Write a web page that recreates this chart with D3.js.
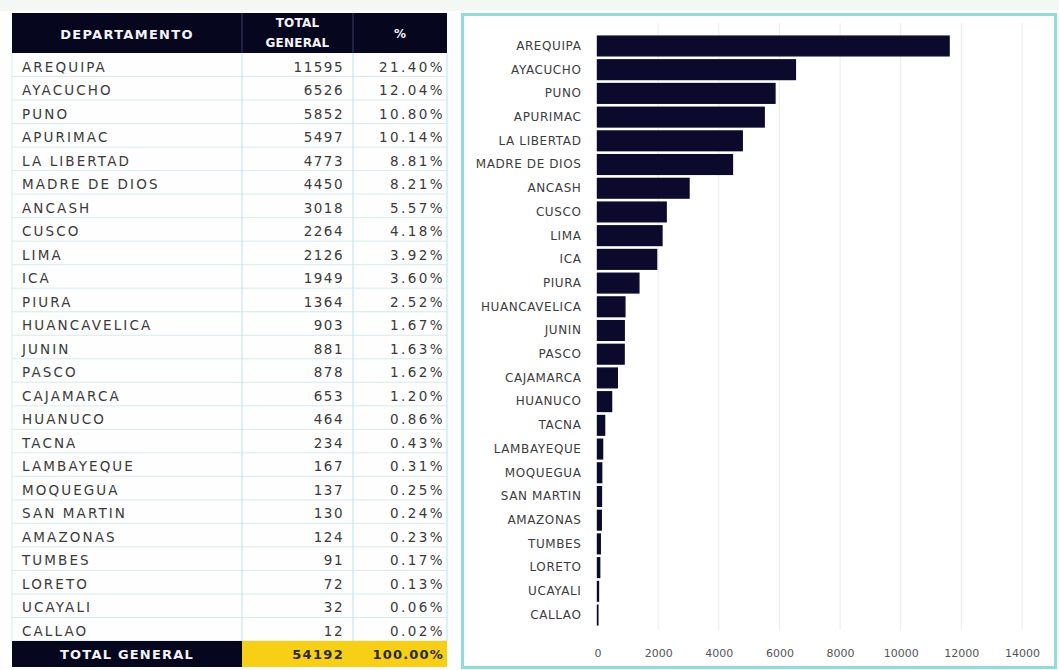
<!DOCTYPE html>
<html><head><meta charset="utf-8">
<script src="https://cdn.jsdelivr.net/npm/d3@7"></script>
<style>
html,body{margin:0;padding:0;background:#fdfefd;}
svg{display:block;}
</style></head>
<body>
<script>
const departments = ["AREQUIPA","AYACUCHO","PUNO","APURIMAC","LA LIBERTAD","MADRE DE DIOS","ANCASH","CUSCO","LIMA","ICA","PIURA","HUANCAVELICA","JUNIN","PASCO","CAJAMARCA","HUANUCO","TACNA","LAMBAYEQUE","MOQUEGUA","SAN MARTIN","AMAZONAS","TUMBES","LORETO","UCAYALI","CALLAO"];
const totals = [11595,6526,5852,5497,4773,4450,3018,2264,2126,1949,1364,903,881,878,653,464,234,167,137,130,124,91,72,32,12];
const percents = [21.40,12.04,10.80,10.14,8.81,8.21,5.57,4.18,3.92,3.60,2.52,1.67,1.63,1.62,1.20,0.86,0.43,0.31,0.25,0.24,0.23,0.17,0.13,0.06,0.02];
const headers = ["DEPARTAMENTO", ["TOTAL","GENERAL"], "%"];
const totalLabel = "TOTAL GENERAL";
const grandTotal = 54192;
const grandPercent = 100.00;
const xTicks = [0,2000,4000,6000,8000,10000,12000,14000];

const W = 1059, H = 670;
const svg = d3.select("body").append("svg").attr("width", W).attr("height", H);
svg.append("rect").attr("x",0).attr("y",0).attr("width",W).attr("height",H).attr("fill","#fdfefd");
svg.append("rect").attr("x",0).attr("y",0).attr("width",W).attr("height",11).attr("fill","#f3f8f4");

const FONT = "'DejaVu Sans', Verdana, sans-serif";

// ---------- TABLE ----------
const tbl = svg.append("g");
const colX = [12, 242, 353, 447];
const headTop = 13, headBot = 53;
const rowY = d3.scaleBand().domain(d3.range(departments.length)).range([headBot, 641]);
const totTop = 641, totBot = 667;

// header
tbl.append("rect").attr("x",colX[0]).attr("y",headTop).attr("width",colX[3]-colX[0]).attr("height",headBot-headTop).attr("fill","#07061f");
[colX[1],colX[2]].forEach(x=>tbl.append("line").attr("x1",x).attr("x2",x).attr("y1",headTop).attr("y2",headBot).attr("stroke","#3b3b5e").attr("stroke-width",1));
tbl.append("text").attr("x",(colX[0]+colX[1])/2).attr("y",39).attr("text-anchor","middle")
  .attr("font-family",FONT).attr("font-weight","bold").attr("font-size",13).attr("letter-spacing",1.3)
  .attr("fill","#f4f4fa").text(headers[0]);
headers[1].forEach((t,i)=>tbl.append("text").attr("x",(colX[1]+colX[2])/2).attr("y",27+i*20).attr("text-anchor","middle")
  .attr("font-family",FONT).attr("font-weight","bold").attr("font-size",12).attr("letter-spacing",0.2)
  .attr("fill","#f4f4fa").text(t));
tbl.append("text").attr("x",(colX[2]+colX[3])/2).attr("y",38).attr("text-anchor","middle")
  .attr("font-family",FONT).attr("font-weight","bold").attr("font-size",12)
  .attr("fill","#f4f4fa").text(headers[2]);

// body rows
const rows = tbl.selectAll("g.row").data(departments).join("g").attr("class","row");
rows.append("line").attr("x1",colX[0]).attr("x2",colX[3])
  .attr("y1",(d,i)=>rowY(i)+rowY.bandwidth()).attr("y2",(d,i)=>rowY(i)+rowY.bandwidth())
  .attr("stroke","#d6ebee").attr("stroke-width",1);
rows.append("text").attr("x",22).attr("y",(d,i)=>rowY(i)+18.5)
  .attr("font-family",FONT).attr("font-size",13.5).attr("letter-spacing",2.1).attr("fill","#3a3a3a").text(d=>d);
rows.append("text").attr("x",344).attr("y",(d,i)=>rowY(i)+18.5).attr("text-anchor","end")
  .attr("font-family",FONT).attr("font-size",13.5).attr("letter-spacing",1.5).attr("fill","#3a3a3a").text((d,i)=>totals[i]);
rows.append("text").attr("x",445).attr("y",(d,i)=>rowY(i)+18.5).attr("text-anchor","end")
  .attr("font-family",FONT).attr("font-size",13.5).attr("letter-spacing",2.4).attr("fill","#3a3a3a").text((d,i)=>percents[i].toFixed(2)+"%");

// column borders
colX.forEach((x,i)=>tbl.append("line").attr("x1",x).attr("x2",x).attr("y1",headBot).attr("y2",totTop)
  .attr("stroke", i===0 ? "#d9eef1" : "#b9e3ea").attr("stroke-width",1));

// total row
tbl.append("rect").attr("x",colX[0]).attr("y",totTop).attr("width",colX[1]-colX[0]).attr("height",totBot-totTop).attr("fill","#07061f");
tbl.append("rect").attr("x",colX[1]).attr("y",totTop).attr("width",colX[3]-colX[1]).attr("height",totBot-totTop).attr("fill","#f6cf16");
tbl.append("text").attr("x",(colX[0]+colX[1])/2).attr("y",totTop+18).attr("text-anchor","middle")
  .attr("font-family",FONT).attr("font-weight","bold").attr("font-size",13).attr("letter-spacing",1.2)
  .attr("fill","#f4f4fa").text(totalLabel);
tbl.append("text").attr("x",344).attr("y",totTop+18).attr("text-anchor","end")
  .attr("font-family",FONT).attr("font-weight","bold").attr("font-size",13).attr("letter-spacing",1.3)
  .attr("fill","#2a2a2a").text(grandTotal);
tbl.append("text").attr("x",444).attr("y",totTop+18).attr("text-anchor","end")
  .attr("font-family",FONT).attr("font-weight","bold").attr("font-size",13).attr("letter-spacing",1.2)
  .attr("fill","#2a2a2a").text(grandPercent.toFixed(2)+"%");

// ---------- CHART ----------
const ch = svg.append("g");
ch.append("rect").attr("x",462.5).attr("y",14.5).attr("width",593).attr("height",653)
  .attr("fill","#ffffff").attr("stroke","#8edcdc").attr("stroke-width",3);

const x = d3.scaleLinear().domain([0,14000]).range([597.5,1022]);
const y = d3.scaleBand().domain(departments).range([34,627]).paddingInner(0.17).paddingOuter(0.09);

// gridlines
ch.append("g").selectAll("line").data(xTicks.slice(1)).join("line")
  .attr("x1",d=>x(d)).attr("x2",d=>x(d)).attr("y1",23).attr("y2",630)
  .attr("stroke","#ebebeb").attr("stroke-width",1);

// bars
ch.append("g").selectAll("rect").data(departments).join("rect")
  .attr("x",x(0)).attr("y",d=>y(d)).attr("height",y.bandwidth())
  .attr("width",(d,i)=>x(totals[i])-x(0))
  .attr("fill","#0b0a2c").attr("stroke","#0b0a2c").attr("stroke-width",1.4);

// y axis
const yAxis = ch.append("g").attr("transform",`translate(${x(0)},0)`)
  .call(d3.axisLeft(y).tickSize(0).tickPadding(16));
yAxis.select(".domain").remove();
yAxis.selectAll("text").attr("font-family",FONT).attr("font-size",12).attr("letter-spacing",0.6).attr("fill","#3c3c3c");

// x axis
const xAxis = ch.append("g").attr("transform","translate(0,645)")
  .call(d3.axisBottom(x).tickValues(xTicks).tickFormat(d3.format("d")).tickSize(0).tickPadding(4));
xAxis.select(".domain").remove();
xAxis.selectAll("text").attr("font-family",FONT).attr("font-size",11).attr("fill","#555");
</script>
</body></html>
